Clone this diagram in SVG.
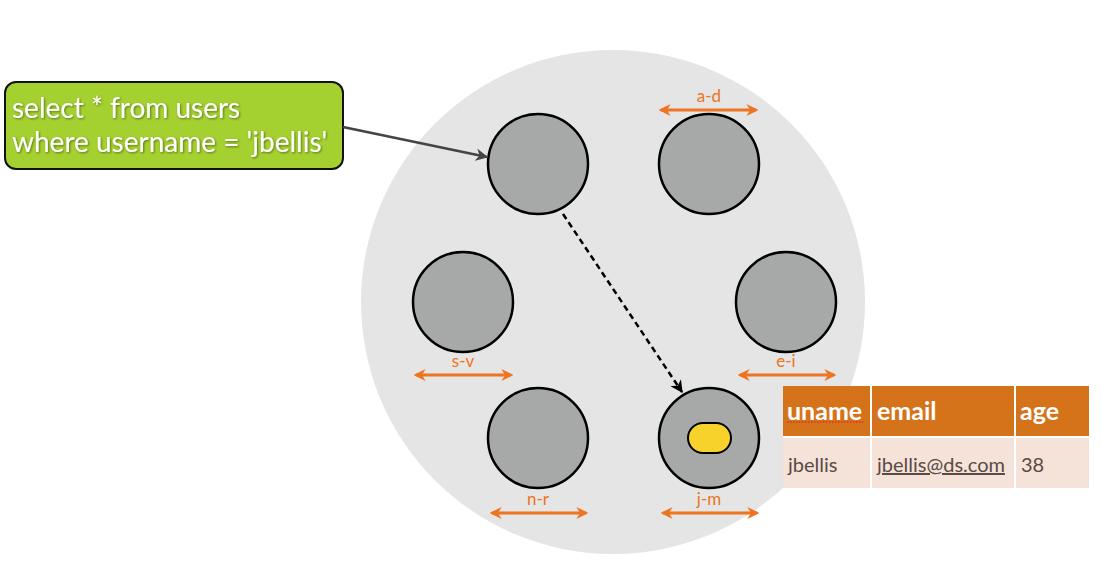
<svg xmlns="http://www.w3.org/2000/svg" width="1102" height="562" viewBox="0 0 1102 562">
<defs>
<style>
.node{fill:#A6A9A7;stroke:#000;stroke-width:2.5}
.range{stroke:#EE7420;stroke-width:3;fill:none;marker-start:url(#oa);marker-end:url(#oa)}
.rl{font-family:"Lato","Liberation Sans",sans-serif;font-size:17px;fill:#EE7420;text-anchor:middle}
.q{font-family:"Lato","Liberation Sans",sans-serif;font-size:28px;fill:#fff}
.th{font-family:"Lato","Liberation Sans",sans-serif;font-size:25px;font-weight:bold;fill:#fff}
.td{font-family:"Lato","Liberation Sans",sans-serif;font-size:20px;fill:#5A4A44}
</style>
<marker id="oa" viewBox="0 0 10 10" refX="8" refY="5" markerWidth="4" markerHeight="4" orient="auto-start-reverse" markerUnits="strokeWidth">
<path d="M0,0 L10,5 L0,10 L3,5 Z" fill="#EE7420"/>
</marker>
<marker id="ga" viewBox="0 0 10 10" refX="9" refY="5" markerWidth="5" markerHeight="5" orient="auto" markerUnits="strokeWidth">
<path d="M0,0 L10,5 L0,10 L3,5 Z" fill="#444"/>
</marker>
<marker id="ba" viewBox="0 0 10 10" refX="9" refY="5" markerWidth="5" markerHeight="5" orient="auto" markerUnits="strokeWidth">
<path d="M0,0 L10,5 L0,10 L3,5 Z" fill="#000"/>
</marker>
<filter id="sh" x="-5%" y="-20%" width="110%" height="140%">
<feDropShadow dx="1" dy="1" stdDeviation="0.8" flood-color="#000" flood-opacity="0.45"/>
</filter>
</defs>
<rect width="1102" height="562" fill="#fff"/>
<g id="ring">
<circle cx="613" cy="302" r="252" fill="#E5E5E5"/>
</g>
<g id="node-tl"><circle class="node" cx="538" cy="164" r="50"/></g>
<g id="node-ad"><circle class="node" cx="709" cy="164" r="50"/>
<line class="range" x1="661" y1="110" x2="756" y2="110"/><text class="rl" x="709" y="102">a-d</text></g>
<g id="node-sv"><circle class="node" cx="463" cy="302" r="50"/>
<line class="range" x1="416" y1="375" x2="511" y2="375"/><text class="rl" x="463" y="367">s-v</text></g>
<g id="node-ei"><circle class="node" cx="786" cy="302" r="50"/>
<line class="range" x1="740" y1="375" x2="834" y2="375"/><text class="rl" x="786" y="367">e-i</text></g>
<g id="node-nr"><circle class="node" cx="538" cy="438" r="50"/>
<line class="range" x1="492" y1="513" x2="586" y2="513"/><text class="rl" x="538" y="505">n-r</text></g>
<g id="node-jm"><circle class="node" cx="709" cy="438" r="50"/>
<rect x="688" y="423" width="43" height="30" rx="15" fill="#F6D22B" stroke="#000" stroke-width="2"/>
<line class="range" x1="663" y1="513" x2="757" y2="513"/><text class="rl" x="709" y="505">j-m</text></g>
<g id="query">
<rect x="5" y="82" width="338" height="87" rx="11" fill="#A4D030" stroke="#111" stroke-width="2"/>
<g filter="url(#sh)">
<text class="q" x="12" y="118">select * from users</text>
<text class="q" x="12" y="152">where username = 'jbellis'</text>
</g>
</g>
<g id="connectors">
<line x1="343" y1="127" x2="487" y2="157" stroke="#444" stroke-width="2.5" marker-end="url(#ga)"/>
<line x1="563" y1="214" x2="682" y2="392" stroke="#000" stroke-width="2.5" stroke-dasharray="6,4" marker-end="url(#ba)"/>
</g>
<g id="table">
<rect x="783" y="386" width="306" height="102" fill="#fff"/>
<rect x="783" y="386" width="87" height="50" fill="#D5731A"/>
<rect x="872" y="386" width="142" height="50" fill="#D5731A"/>
<rect x="1016" y="386" width="73" height="50" fill="#D5731A"/>
<rect x="783" y="438" width="87" height="50" fill="#F5E3D9"/>
<rect x="872" y="438" width="142" height="50" fill="#F5E3D9"/>
<rect x="1016" y="438" width="73" height="50" fill="#F5E3D9"/>
<text class="th" x="787" y="420">uname</text>
<line x1="787" y1="422" x2="865" y2="422" stroke="#E03020" stroke-width="1.5" stroke-dasharray="1.5,1.5"/>
<text class="th" x="877" y="420">email</text>
<text class="th" x="1020" y="420">age</text>
<text class="td" x="788" y="472">jbellis</text>
<text class="td" x="877" y="472" text-decoration="underline">jbellis@ds.com</text>
<text class="td" x="1021" y="472">38</text>
</g>
</svg>
